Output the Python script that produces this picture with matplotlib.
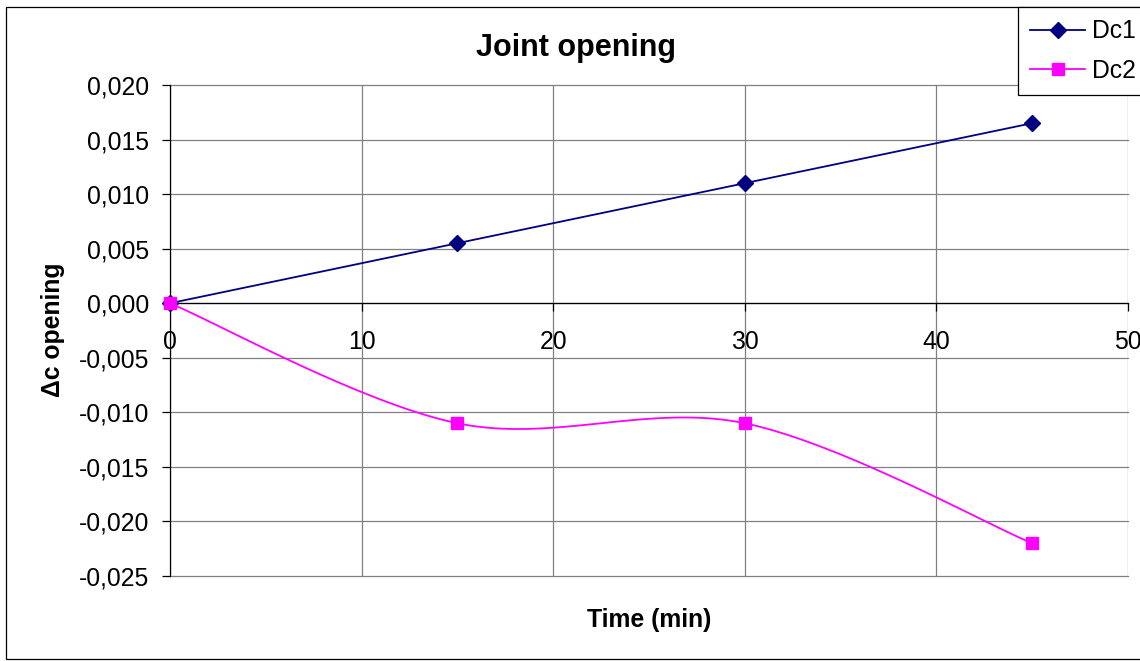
import numpy as np
import matplotlib
matplotlib.use("Agg")
from matplotlib import pyplot as plt
from matplotlib.ticker import FuncFormatter, MultipleLocator
from matplotlib.patches import Rectangle

plt.rcParams['font.family'] = ['Liberation Sans', 'DejaVu Sans']

time_min = [0, 15, 30, 45]
dc1 = [0.0, 0.0055, 0.011, 0.0165]
dc2 = [0.0, -0.011, -0.011, -0.022]

W, H = 1140, 661


def smooth_line(xs, ys, n=40):
    # cubic bezier through the points, control points at +-(P[i+1]-P[i-1])/6
    pts = np.column_stack([xs, ys]).astype(float)
    ext = np.vstack([pts[0], pts, pts[-1]])
    out = []
    for i in range(len(pts) - 1):
        p0, p1, p2, p3 = ext[i], ext[i + 1], ext[i + 2], ext[i + 3]
        c1 = p1 + (p2 - p0) / 6.0
        c2 = p2 - (p3 - p1) / 6.0
        t = np.linspace(0, 1, n)[:, None]
        seg = ((1 - t) ** 3) * p1 + 3 * ((1 - t) ** 2) * t * c1 + 3 * (1 - t) * t ** 2 * c2 + t ** 3 * p2
        out.append(seg if i == 0 else seg[1:])
    seg = np.vstack(out)
    return seg[:, 0], seg[:, 1]


def comma_fmt(v, pos):
    s = f"{v:.3f}".replace('.', ',')
    if s == "-0,000":
        s = "0,000"
    return s


fig = plt.figure(figsize=(W / 100, H / 100), dpi=100)
ax = fig.add_axes([170 / W, 1 - 576 / H, (1128 - 170) / W, (576 - 85) / H])

fs = 17.8
navy = "#000080"
magenta = "#FF00FF"

ax.plot(time_min, dc1, color=navy, lw=1.3, marker='D', ms=8.5, label='Dc1',
        clip_on=False, zorder=4)
sx, sy = smooth_line(time_min, dc2)
ax.plot(sx, sy, color=magenta, lw=1.3, clip_on=False, zorder=4)
ax.plot(time_min, dc2, color=magenta, lw=0, marker='s', ms=8.3, clip_on=False, zorder=5)
# legend handle for the smoothed series
ax.plot([], [], color=magenta, lw=1.3, marker='s', ms=8.3, label='Dc2')

ax.set_xlim(0, 50)
ax.set_ylim(-0.025, 0.020)
ax.xaxis.set_major_locator(MultipleLocator(10))
ax.yaxis.set_major_locator(MultipleLocator(0.005))
ax.yaxis.set_major_formatter(FuncFormatter(comma_fmt))

ax.grid(True, color="#808080", lw=0.9)
ax.set_axisbelow(True)
for gl in ax.get_xgridlines() + ax.get_ygridlines():
    gl.set_clip_on(False)
ax.spines['top'].set_visible(False)
ax.spines['right'].set_visible(False)
ax.spines['bottom'].set_position(('data', 0))
for sp in ('left', 'bottom'):
    ax.spines[sp].set_color('black')
    ax.spines[sp].set_linewidth(0.9)
    ax.spines[sp].set_zorder(3)

ax.tick_params(axis='x', direction='out', length=5.8, width=0.9, pad=13.5, labelsize=fs)
ax.tick_params(axis='y', direction='out', length=5.8, width=0.9, pad=9, labelsize=fs)

fig.text(576 / W, 1 - 48 / H, "Joint opening", ha='center', va='center',
         fontsize=22, fontweight='bold')
fig.text(649 / W, 1 - 620 / H, "Time (min)", ha='center', va='center',
         fontsize=fs, fontweight='bold')
fig.text(53 / W, 1 - 330 / H, "Δc opening", ha='center', va='center',
         rotation=90, fontsize=fs, fontweight='bold')

# outer chart border
fig.patches.append(Rectangle((6 / W, 2 / H), 1.1, (659 - 7) / H, transform=fig.transFigure,
                             fill=False, edgecolor='black', lw=0.9, clip_on=False))

leg = fig.legend(loc='upper left', bbox_to_anchor=(1018 / W, 1 - 7 / H),
                 bbox_transform=fig.transFigure, borderaxespad=0,
                 fontsize=fs, frameon=True, fancybox=False, framealpha=1,
                 edgecolor='black', handlelength=2.2, handletextpad=0.3,
                 borderpad=0.5, labelspacing=0.62)
leg.get_frame().set_linewidth(0.9)

fig.savefig("out.png", dpi=100)
